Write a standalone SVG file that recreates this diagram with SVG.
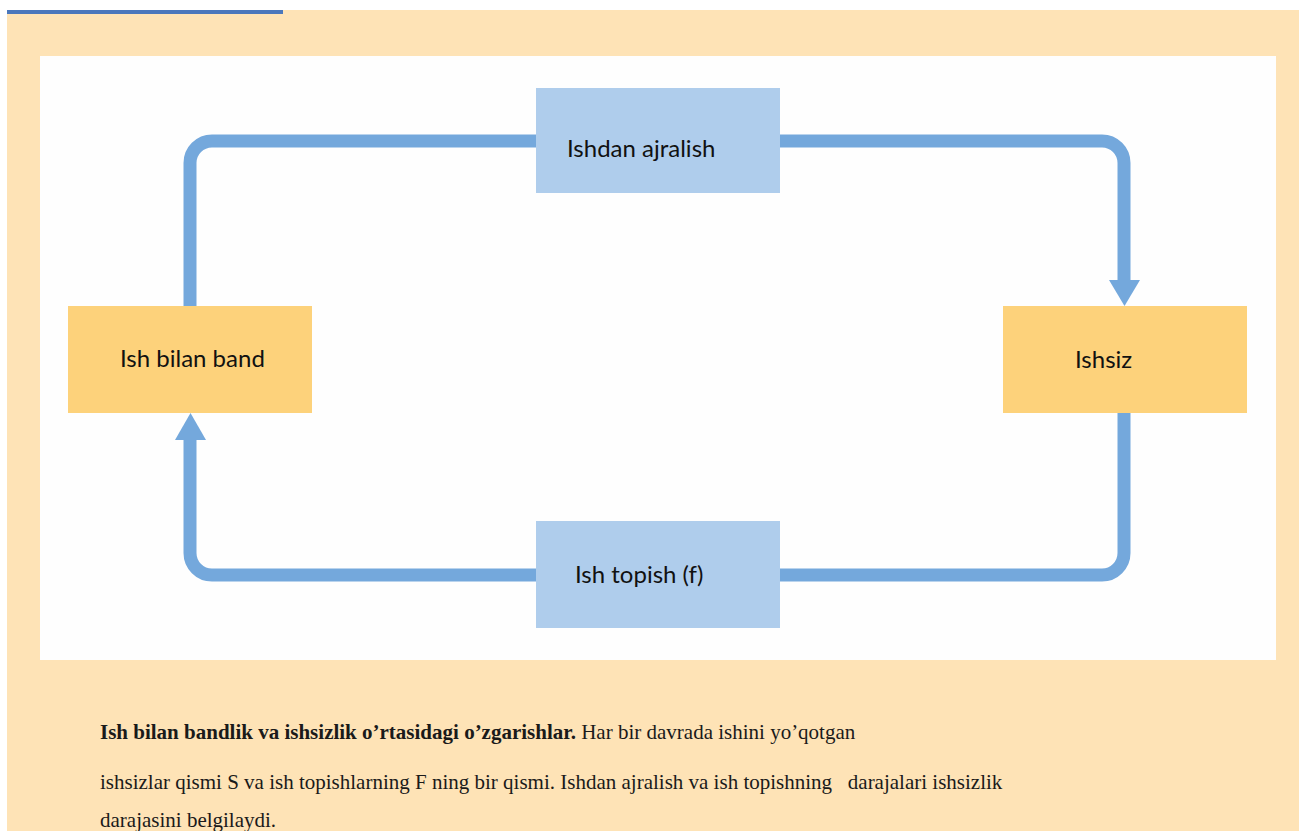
<svg xmlns="http://www.w3.org/2000/svg" width="1299" height="831" viewBox="0 0 1299 831">
<defs>
<style>
.conn{fill:none;stroke:#74A8DC;stroke-width:13}
.head{fill:#74A8DC}
.blue{fill:#AFCDEC}
.orange{fill:#FDD27B}
.lbl{font-family:Lato,"Open Sans",sans-serif;font-size:24px;fill:#111}
.cap{font-family:"Liberation Serif","Times New Roman",serif;font-size:21px;fill:#1a1a1a}
</style>
</defs>
<rect x="0" y="0" width="1299" height="831" fill="#ffffff"/>
<rect x="7" y="10" width="1292" height="821" fill="#FEE3B6"/>
<rect x="7" y="10" width="276" height="4" fill="#4A77BC"/>
<rect x="40" y="56" width="1236" height="604" fill="#FEFEFE"/>
<g id="connectors">
<path class="conn" d="M536,141 H212 A22,22 0 0 0 190,163 V306"/>
<path class="conn" d="M780,141 H1102 A22,22 0 0 1 1124,163 V282"/>
<polygon class="head" points="1109,280 1140,280 1124.5,306"/>
<path class="conn" d="M1124,413 V553 A22,22 0 0 1 1102,575 H780"/>
<path class="conn" d="M536,575 H212 A22,22 0 0 1 190,553 V438"/>
<polygon class="head" points="175,440 206,440 190.5,413"/>
</g>
<g id="node-ajralish">
<rect class="blue" x="536" y="88" width="244" height="105"/>
<text class="lbl" x="567" y="157">Ishdan ajralish</text>
</g>
<g id="node-topish">
<rect class="blue" x="536" y="521" width="244" height="107"/>
<text class="lbl" x="575" y="583">Ish topish (f)</text>
</g>
<g id="node-band">
<rect class="orange" x="68" y="306" width="244" height="107"/>
<text class="lbl" x="120" y="367">Ish bilan band</text>
</g>
<g id="node-ishsiz">
<rect class="orange" x="1003" y="306" width="244" height="107"/>
<text class="lbl" x="1075" y="368">Ishsiz</text>
</g>
<g id="caption">
<text class="cap" x="100" y="739"><tspan font-weight="bold">Ish bilan bandlik va ishsizlik o’rtasidagi o’zgarishlar.</tspan> Har bir davrada ishini yo’qotgan</text>
<text class="cap" x="100" y="789" xml:space="preserve">ishsizlar qismi S va ish topishlarning F ning bir qismi. Ishdan ajralish va ish topishning   darajalari ishsizlik</text>
<text class="cap" x="100" y="827">darajasini belgilaydi.</text>
</g>
</svg>
